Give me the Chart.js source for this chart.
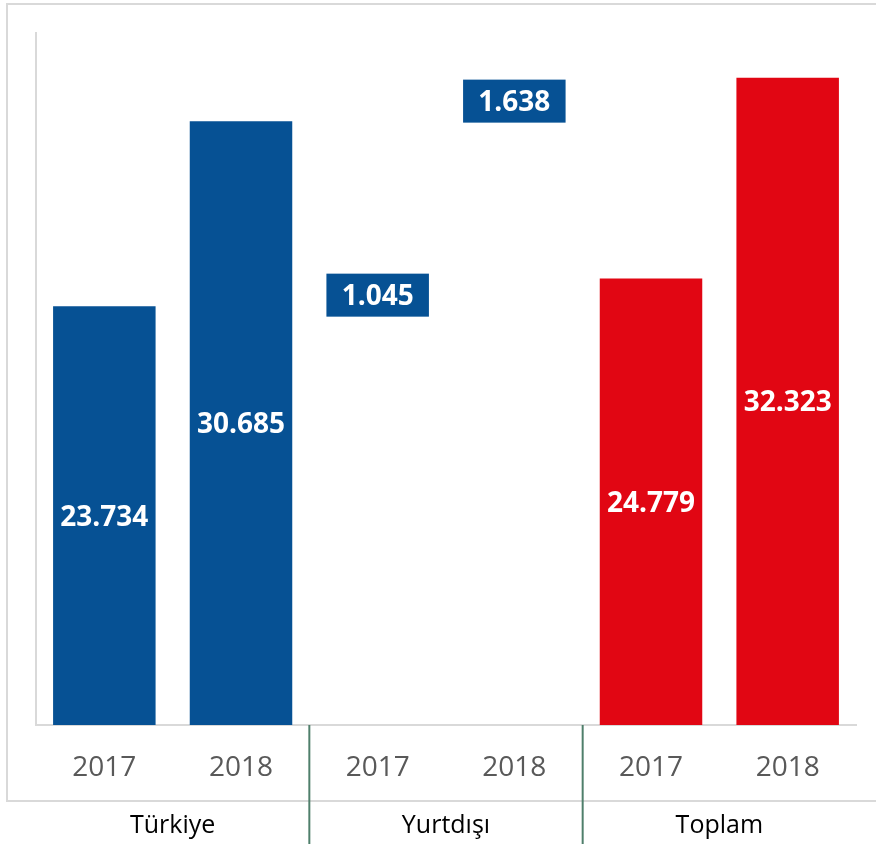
<!DOCTYPE html>
<html>
<head>
<meta charset="utf-8">
<script src="https://cdn.jsdelivr.net/npm/chart.js@4/dist/chart.umd.min.js"></script>
<style>
  body { margin: 0; background: #fff; }
  #wrap { width: 876px; height: 844px; position: relative; }
</style>
</head>
<body>
<div id="wrap"><canvas id="chart"></canvas></div>
<script>
const groups = ['Türkiye', 'Yurtdışı', 'Toplam'];
const years = ['2017', '2018'];
const turkiye = [23734, 30685];
const yurtdisi = [1045, 1638];
const toplam = [24779, 32323];

const blue = '#065194';
const red = '#E10613';
const fontName = '"Open Sans", "Noto Sans", sans-serif';

// one x label per bar, groups are drawn under them
const labels = [];
groups.forEach(() => years.forEach(y => labels.push(y)));

function padGroup(values, groupIndex) {
  const out = labels.map(() => null);
  values.forEach((v, i) => { out[groupIndex * years.length + i] = v; });
  return out;
}

function fmt(v) {
  return String(v).replace(/\B(?=(\d{3})+(?!\d))/g, '.');
}

const frame = {
  id: 'frame',
  beforeDraw(chart) {
    const ctx = chart.ctx;
    ctx.save();
    ctx.strokeStyle = '#d9d9d9';
    ctx.lineWidth = 2;
    ctx.strokeRect(7, 4, 920, 797);
    ctx.restore();
  }
};

const valueLabels = {
  id: 'valueLabels',
  afterDatasetsDraw(chart) {
    const ctx = chart.ctx;
    const bottom = chart.chartArea.bottom;
    ctx.save();
    ctx.font = 'bold 28px ' + fontName;
    ctx.textAlign = 'center';
    ctx.textBaseline = 'middle';
    chart.data.datasets.forEach((ds, di) => {
      const meta = chart.getDatasetMeta(di);
      meta.data.forEach((bar, i) => {
        const v = ds.data[i];
        if (v === null) return;
        if (ds.boxLabel) {
          const cy = bar.y - 22;
          ctx.fillStyle = blue;
          ctx.fillRect(bar.x - bar.width / 2, cy - 22, bar.width, 43);
          ctx.fillStyle = '#fff';
          ctx.fillText(fmt(v), bar.x, cy + 1);
        } else {
          ctx.fillStyle = '#fff';
          ctx.fillText(fmt(v), bar.x, (bar.y + bottom) / 2 + 2);
        }
      });
    });
    ctx.restore();
  }
};

const groupAxis = {
  id: 'groupAxis',
  afterDraw(chart) {
    const ctx = chart.ctx;
    const x = chart.scales.x;
    const top = chart.chartArea.bottom;
    ctx.save();
    ctx.strokeStyle = '#4f7f6b';
    ctx.lineWidth = 2;
    for (let g = 1; g < groups.length; g++) {
      const i = g * years.length;
      const xs = (x.getPixelForValue(i - 1) + x.getPixelForValue(i)) / 2;
      ctx.beginPath();
      ctx.moveTo(xs, top);
      ctx.lineTo(xs, chart.height);
      ctx.stroke();
    }
    ctx.font = '25px ' + fontName;
    ctx.fillStyle = '#000';
    ctx.textAlign = 'center';
    ctx.textBaseline = 'middle';
    groups.forEach((g, gi) => {
      const a = x.getPixelForValue(gi * years.length);
      const b = x.getPixelForValue(gi * years.length + years.length - 1);
      ctx.fillText(g, (a + b) / 2, 826);
    });
    ctx.restore();
  }
};

new Chart(document.getElementById('chart'), {
  type: 'bar',
  data: {
    labels: labels,
    datasets: [
      { label: groups[0], data: padGroup(turkiye, 0), backgroundColor: blue, yAxisID: 'y' },
      { label: groups[1], data: padGroup(yurtdisi, 1), backgroundColor: 'rgba(0,0,0,0)', yAxisID: 'y2', boxLabel: true },
      { label: groups[2], data: padGroup(toplam, 2), backgroundColor: red, yAxisID: 'y' }
    ]
  },
  options: {
    responsive: true,
    maintainAspectRatio: false,
    animation: false,
    layout: { padding: { top: 33, left: 36, right: 20, bottom: 0 } },
    datasets: { bar: { grouped: false, categoryPercentage: 1, barPercentage: 0.75 } },
    plugins: { legend: { display: false }, tooltip: { enabled: false } },
    scales: {
      x: {
        grid: { display: false },
        border: { color: '#d9d9d9', width: 2 },
        ticks: { color: '#595959', font: { family: fontName, size: 28 }, padding: 18, maxRotation: 0, autoSkip: false },
        afterFit(scale) { scale.height = 119; }
      },
      y: {
        min: 8000,
        max: 34000,
        grid: { display: false },
        border: { color: '#d9d9d9', width: 2 },
        ticks: { display: false },
        afterFit(scale) { scale.width = 0; }
      },
      y2: {
        display: false,
        min: -200,
        max: 1915
      }
    }
  },
  plugins: [frame, valueLabels, groupAxis]
});
</script>
</body>
</html>
